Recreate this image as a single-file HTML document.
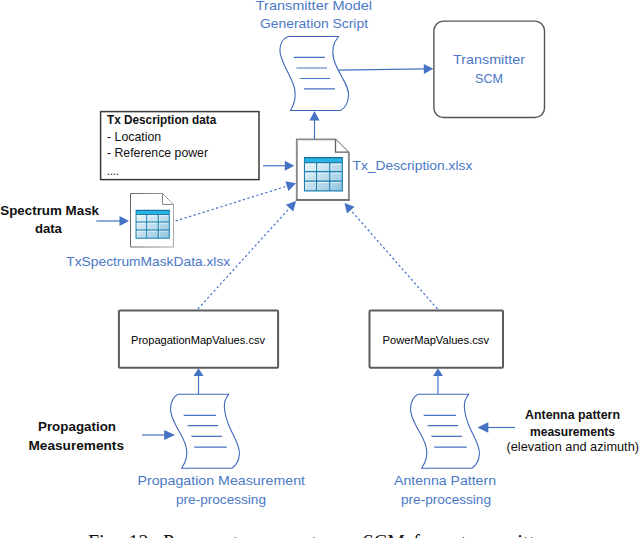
<!DOCTYPE html>
<html><head><meta charset="utf-8">
<style>
html,body{margin:0;padding:0;background:#fff;}
body{width:640px;height:538px;overflow:hidden;position:relative;font-family:"Liberation Sans",sans-serif;}
svg{position:absolute;left:0;top:0;display:block;}
text{font-family:"Liberation Sans",sans-serif;}
.b{fill:#4B78C7;}
.k{fill:#111;}
.kk{fill:#000;}
.ser{font-family:"Liberation Serif",serif;fill:#111;}
</style></head><body>
<svg width="640" height="538" viewBox="0 0 640 538">
<defs>
<linearGradient id="cg" x1="0" y1="0" x2="1" y2="1"><stop offset="0" stop-color="#f4fafd"/><stop offset="1" stop-color="#8fc4df"/></linearGradient>
<linearGradient id="fg" x1="0" y1="0" x2="1" y2="0"><stop offset="0" stop-color="#666"/><stop offset="1" stop-color="#aaa"/></linearGradient>
<g id="script">
<path d="M18.5,0.5 H68.5 C63,7 61,14 64,24 C68,38 80,50 78.5,60 C78,67 75,72 70.5,74.5 H20.5 C27,64 26,54 22,45 C17,33 9.9,24 9.9,14 C9.9,7 13.5,2 18.5,0.5 Z" fill="#fff" stroke="#3E68B8" stroke-width="1.1"/>
<path d="M23.7,21.3H55 M26.4,32H57 M30.1,42.5H60.2 M33.9,52.9H65" stroke="#4472C4" stroke-width="1.2" fill="none"/>
</g>
<g id="script2">
<path d="M18.1,0.3 H68.6 C65,5 64,9 64.4,13 C64.6,22 67.5,28 70.2,34.5 C74,43 80,52 79.4,60 C79,66 76,71.5 71.9,74.2 H21.7 C25,69 27,63 26.8,58 C26.5,48 21,41 16.7,33 C13,26 10.3,20 10.5,14.5 C10.7,8 14,2 18.1,0.3 Z" fill="#fff" stroke="#3E68B8" stroke-width="1.1"/>
<path d="M23.7,21.4H56 M27.6,31.6H58 M31.4,42.3H61.9 M34.3,53.2H66.9" stroke="#4472C4" stroke-width="1.2" fill="none"/>
</g>
<g id="table">
<rect x="0.5" y="0.5" width="37.8" height="33.3" rx="0.8" fill="url(#cg)"/>
<path d="M1.6,7H11.6V13.6 M1.6,13.6V7 M13.6,7H24.8 M13.6,13.6V7 M26.8,7H37 M26.8,13.6V7 M1.6,23V16H11.6 M13.6,23V16H24.8 M26.8,23V16H37 M1.6,32.4V25.4H11.6 M13.6,32.4V25.4H24.8 M26.8,32.4V25.4H37" stroke="#fff" stroke-opacity="0.75" stroke-width="0.9" fill="none"/>
<rect x="0.5" y="0.5" width="37.8" height="5" fill="#29b4e1"/>
<path d="M0.5,0.5H38.3V33.8H0.5Z M0.5,5.6H38.3 M0.5,14.6H38.3 M0.5,24.1H38.3 M12.6,5.6V33.8 M25.8,5.6V33.8" stroke="#1b7fb0" stroke-width="1.15" fill="none"/>
<path d="M0.5,0.7H38.3" stroke="#14709f" stroke-width="1.2" fill="none"/>
</g>
</defs>

<use href="#script" x="270" y="36"/>
<use href="#script2" x="160" y="394"/>
<use href="#script2" x="400" y="394"/>
<rect x="433.9" y="21.1" width="110.6" height="96.4" rx="9.5" ry="9.5" fill="#fff" stroke="#555" stroke-width="1.4"/>
<rect x="100.6" y="111.6" width="158.4" height="68" fill="#fff" stroke="#3a3a3a" stroke-width="1.5"/>
<rect x="118.9" y="310.4" width="159.2" height="57.4" fill="#fff" rx="1" stroke="#5c5c5c" stroke-width="2"/>
<rect x="369.5" y="310.4" width="133.5" height="57.4" fill="#fff" rx="1" stroke="#5c5c5c" stroke-width="2"/>
<!-- big file -->
<path d="M296.8,139.4 H335.5 L348.9,152.6 V199.9 H296.8 Z" fill="#fff" stroke="none"/>
<path d="M335.5,139.4 H296.8 V199.9 H348.9 V152.4" fill="none" stroke="#8a8a8a" stroke-width="1.9"/>
<path d="M335.5,139 L349.3,152.6" fill="none" stroke="#9a9a9a" stroke-width="1.1"/>
<path d="M295.9,200 H349.8" fill="none" stroke="#666" stroke-width="1.6"/>
<path d="M335.5,139.4 V152.2 H348.9" fill="none" stroke="#606060" stroke-width="1.3"/>
<use href="#table" x="304" y="157"/>
<!-- small file -->
<path d="M130.5,193.5 H162.5 L173.5,204.5 V247 H130.5 Z" fill="#fff" stroke="url(#fg)" stroke-width="1"/>
<path d="M162.5,193.5 V204.5 H173.5" fill="none" stroke="#888" stroke-width="1"/>
<g transform="translate(135.6,209.8) scale(0.88,0.842)"><use href="#table"/></g>
<line x1="338.30" y1="70.20" x2="424.80" y2="68.93" stroke="#4472C4" stroke-width="1.2"/><polygon points="433.30,68.80 423.87,73.94 423.73,63.94" fill="#4472C4"/>
<line x1="314.50" y1="139.00" x2="314.50" y2="119.50" stroke="#4472C4" stroke-width="1.2"/><polygon points="314.50,111.00 319.50,120.50 309.50,120.50" fill="#4472C4"/>
<line x1="263.00" y1="165.75" x2="285.80" y2="165.75" stroke="#4472C4" stroke-width="1.2"/><polygon points="294.30,165.75 284.80,170.75 284.80,160.75" fill="#4472C4"/>
<line x1="96.30" y1="221.00" x2="120.50" y2="221.00" stroke="#4472C4" stroke-width="1.2"/><polygon points="129.00,221.00 119.50,226.00 119.50,216.00" fill="#4472C4"/>
<line x1="142.00" y1="435.00" x2="165.20" y2="435.00" stroke="#4472C4" stroke-width="1.2"/><polygon points="175.00,435.00 164.20,440.10 164.20,429.90" fill="#4472C4"/>
<line x1="515.00" y1="427.50" x2="487.30" y2="427.50" stroke="#4472C4" stroke-width="1.2"/><polygon points="477.50,427.50 488.30,422.20 488.30,432.80" fill="#4472C4"/>
<line x1="198.50" y1="394.00" x2="198.50" y2="374.90" stroke="#4472C4" stroke-width="1.2"/><polygon points="198.50,368.30 203.50,375.90 193.50,375.90" fill="#4472C4"/>
<line x1="438.00" y1="394.00" x2="438.00" y2="374.90" stroke="#4472C4" stroke-width="1.2"/><polygon points="438.00,368.30 443.00,375.90 433.00,375.90" fill="#4472C4"/>
<line x1="175.60" y1="221.00" x2="287.89" y2="185.84" stroke="#4472C4" stroke-width="1.2" stroke-dasharray="2.3 2.4"/><polygon points="296.00,183.30 288.43,190.91 285.44,181.37" fill="#4472C4"/>
<line x1="197.90" y1="309.00" x2="290.28" y2="207.29" stroke="#4472C4" stroke-width="1.2" stroke-dasharray="2.3 2.4"/><polygon points="296.00,201.00 293.31,211.39 285.91,204.67" fill="#4472C4"/>
<line x1="437.40" y1="309.00" x2="350.10" y2="209.39" stroke="#4472C4" stroke-width="1.2" stroke-dasharray="2.3 2.4"/><polygon points="344.50,203.00 354.52,206.85 347.00,213.44" fill="#4472C4"/>
<text id="t0" x="255.8" y="10.3" class="b" font-size="13.5" font-weight="normal" textLength="116.20" lengthAdjust="spacingAndGlyphs">Transmitter Model</text>
<text id="t1" x="260" y="27.5" class="b" font-size="13.5" font-weight="normal" textLength="108.00" lengthAdjust="spacingAndGlyphs">Generation Script</text>
<text id="t2" x="453" y="63.75" class="b" font-size="13.5" font-weight="normal" textLength="72.00" lengthAdjust="spacingAndGlyphs">Transmitter</text>
<text id="t3" x="475" y="82.5" class="b" font-size="13.5" font-weight="normal" textLength="28.00" lengthAdjust="spacingAndGlyphs">SCM</text>
<text id="t4" x="107" y="123.75" class="k" font-size="13.5" font-weight="bold" textLength="109.25" lengthAdjust="spacingAndGlyphs">Tx Description data</text>
<text id="t5" x="107" y="140.75" class="k" font-size="13.5" font-weight="normal" textLength="54.25" lengthAdjust="spacingAndGlyphs">- Location</text>
<text id="t6" x="107" y="157" class="k" font-size="13.5" font-weight="normal" textLength="101.00" lengthAdjust="spacingAndGlyphs">- Reference power</text>
<text id="t7" x="107" y="175" class="k" font-size="13.5" font-weight="normal" textLength="11.75" lengthAdjust="spacingAndGlyphs">....</text>
<text id="t8" x="352.5" y="169.5" class="b" font-size="13.5" font-weight="normal" textLength="119.80" lengthAdjust="spacingAndGlyphs">Tx_Description.xlsx</text>
<text id="t9" x="0.3" y="214.5" class="k" font-size="13.5" font-weight="bold" textLength="98.70" lengthAdjust="spacingAndGlyphs">Spectrum Mask</text>
<text id="t10" x="34.9" y="232.5" class="k" font-size="13.5" font-weight="bold" textLength="27.00" lengthAdjust="spacingAndGlyphs">data</text>
<text id="t11" x="66.3" y="266.2" class="b" font-size="13.5" font-weight="normal" textLength="163.90" lengthAdjust="spacingAndGlyphs">TxSpectrumMaskData.xlsx</text>
<text id="t12" x="131" y="344" class="kk" font-size="10.8" font-weight="normal" textLength="134.00" lengthAdjust="spacingAndGlyphs">PropagationMapValues.csv</text>
<text id="t13" x="382.5" y="344" class="kk" font-size="10.8" font-weight="normal" textLength="106.50" lengthAdjust="spacingAndGlyphs">PowerMapValues.csv</text>
<text id="t14" x="38" y="431" class="k" font-size="13.5" font-weight="bold" textLength="78.00" lengthAdjust="spacingAndGlyphs">Propagation</text>
<text id="t15" x="28.5" y="450" class="k" font-size="13.5" font-weight="bold" textLength="95.50" lengthAdjust="spacingAndGlyphs">Measurements</text>
<text id="t16" x="137.5" y="485" class="b" font-size="13.5" font-weight="normal" textLength="167.50" lengthAdjust="spacingAndGlyphs">Propagation Measurement</text>
<text id="t17" x="176" y="504" class="b" font-size="13.5" font-weight="normal" textLength="90.00" lengthAdjust="spacingAndGlyphs">pre-processing</text>
<text id="t18" x="394" y="485" class="b" font-size="13.5" font-weight="normal" textLength="102.00" lengthAdjust="spacingAndGlyphs">Antenna Pattern</text>
<text id="t19" x="401" y="504" class="b" font-size="13.5" font-weight="normal" textLength="90.00" lengthAdjust="spacingAndGlyphs">pre-processing</text>
<text id="t20" x="525" y="419.2" class="k" font-size="12.6" font-weight="bold" textLength="95.00" lengthAdjust="spacingAndGlyphs">Antenna pattern</text>
<text id="t21" x="530" y="436" class="k" font-size="12.6" font-weight="bold" textLength="85.00" lengthAdjust="spacingAndGlyphs">measurements</text>
<text id="t22" x="506.5" y="451" class="k" font-size="12.6" font-weight="normal" textLength="132.50" lengthAdjust="spacingAndGlyphs">(elevation and azimuth)</text>
<text class="ser" x="88" y="548.8" font-size="20">Fig.</text>
<text class="ser" x="128.5" y="548.8" font-size="20">12:</text>
<text class="ser" x="163" y="548.8" font-size="20">Process</text>
<text class="ser" x="232.4" y="548.8" font-size="20">to</text>
<text class="ser" x="258.2" y="548.8" font-size="20">generate</text>
<text class="ser" x="334.9" y="548.8" font-size="20">an</text>
<text class="ser" x="362.7" y="548.8" font-size="20">SCM</text>
<text class="ser" x="413.3" y="548.8" font-size="20">for</text>
<text class="ser" x="444.3" y="548.8" font-size="20">a</text>
<text class="ser" x="460.8" y="548.8" font-size="20" textLength="90" lengthAdjust="spacingAndGlyphs">transmitter</text>
</svg>
</body></html>
